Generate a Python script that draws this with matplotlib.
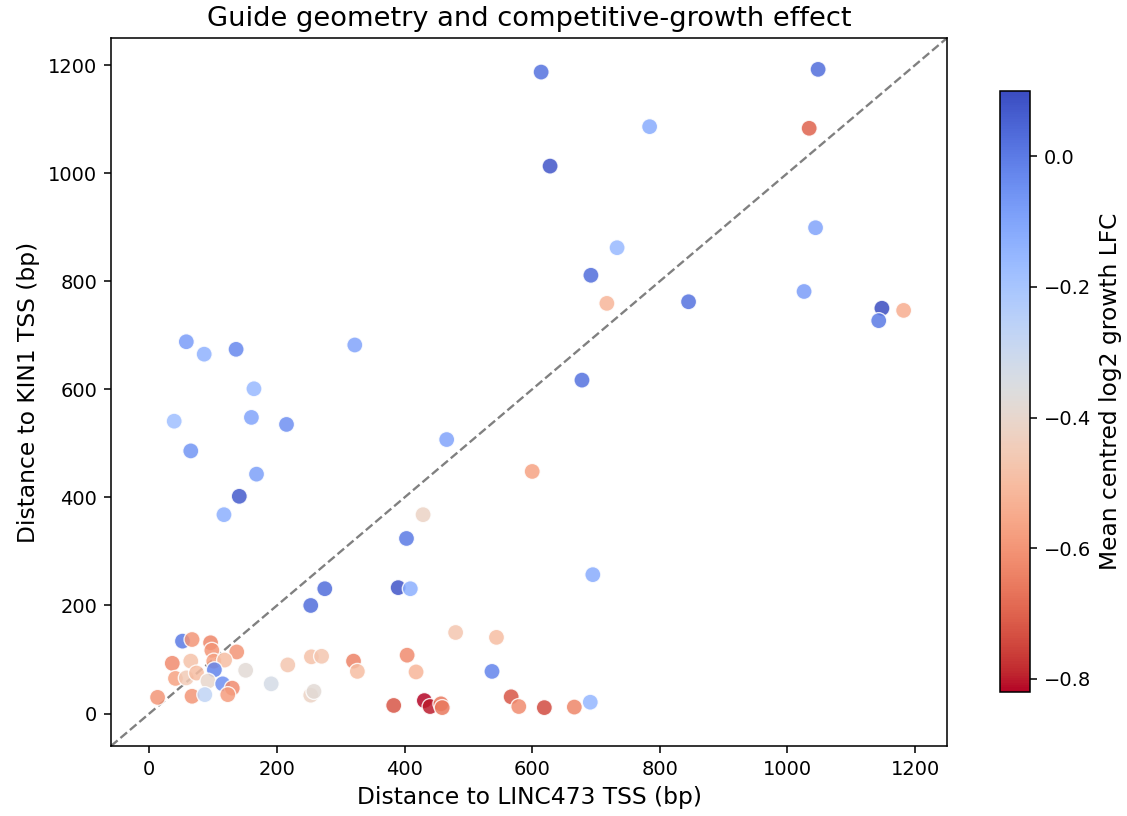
import matplotlib
matplotlib.use("Agg")
import matplotlib.pyplot as plt
import numpy as np

# distance of each guide to the two TSSs (bp) and mean centred log2 growth LFC
dist_linc = [614, 1048, 784, 1034, 628, 1044, 733, 692, 717, 845,
             1026, 1148, 1143, 1182, 58, 86, 136, 164, 39, 160,
             215, 65, 168, 141, 117, 322, 466, 600, 429, 403,
             390, 409, 275, 253, 695, 678,
             480, 544, 404, 418, 537, 383, 431, 440, 457, 459,
             567, 579, 619, 666, 691,
             151, 191, 217, 254, 270, 320, 326, 253, 258, 13,
             52, 67, 96, 98, 137, 36, 65, 101, 118, 102,
             41, 58, 74, 92, 115, 130, 123, 67, 87]
dist_kin = [1187, 1192, 1086, 1083, 1013, 899, 862, 811, 759, 762,
            781, 750, 727, 746, 688, 665, 674, 601, 541, 548,
            535, 486, 443, 402, 368, 682, 507, 448, 368, 324,
            233, 231, 231, 200, 257, 617,
            150, 141, 108, 77, 78, 15, 24, 13, 18, 11,
            31, 13, 11, 12, 21,
            80, 55, 90, 105, 106, 97, 78, 34, 41, 30,
            134, 137, 131, 117, 114, 93, 97, 97, 99, 81,
            65, 66, 75, 60, 55, 47, 35, 32, 35]
lfc = [0.02, 0.03, -0.12, -0.70, 0.08, -0.10, -0.16, 0.03, -0.52, 0.02,
       -0.08, 0.10, 0.0, -0.54, -0.08, -0.14, -0.03, -0.16, -0.18, -0.10,
       -0.05, -0.06, -0.09, 0.07, -0.13, -0.10, -0.10, -0.57, -0.42, 0.0,
       0.08, -0.13, 0.03, 0.03, -0.12, 0.02,
       -0.47, -0.50, -0.62, -0.52, -0.02, -0.72, -0.82, -0.80, -0.66, -0.66,
       -0.72, -0.62, -0.74, -0.63, -0.15,
       -0.38, -0.33, -0.47, -0.48, -0.47, -0.64, -0.50, -0.42, -0.38, -0.60,
       0.0, -0.60, -0.63, -0.60, -0.60, -0.62, -0.48, -0.57, -0.50, -0.02,
       -0.57, -0.45, -0.50, -0.40, -0.05, -0.62, -0.58, -0.60, -0.27]

fig = plt.figure(figsize=(1127 / 140, 816 / 140), dpi=140)
ax = fig.add_axes([0.0985, 0.0858, 0.7418, 0.8676])
cax = fig.add_axes([0.8873, 0.152, 0.0266, 0.7365])

sc = ax.scatter(dist_linc, dist_kin, c=lfc, cmap="coolwarm_r",
                vmin=min(lfc), vmax=max(lfc), s=68, alpha=0.85,
                edgecolors="white", linewidths=0.7, zorder=3)

lims = [-60, 1250]
ax.plot(lims, lims, ls="--", color="grey", lw=1.2, zorder=2)
ax.set_xlim(lims)
ax.set_ylim(lims)
ax.set_xticks([0, 200, 400, 600, 800, 1000, 1200])
ax.set_yticks([0, 200, 400, 600, 800, 1000, 1200])
ax.tick_params(labelsize=10)

ax.set_xlabel("Distance to LINC473 TSS (bp)", fontsize=12)
ax.set_ylabel("Distance to KIN1 TSS (bp)", fontsize=12)
ax.set_title("Guide geometry and competitive-growth effect", fontsize=14)

cb = fig.colorbar(sc, cax=cax)
cb.solids.set_alpha(1)
cb.set_ticks([0.0, -0.2, -0.4, -0.6, -0.8])
cb.ax.tick_params(labelsize=10)
cb.set_label("Mean centred log2 growth LFC", fontsize=12)

fig.savefig("out.png", dpi=140)
